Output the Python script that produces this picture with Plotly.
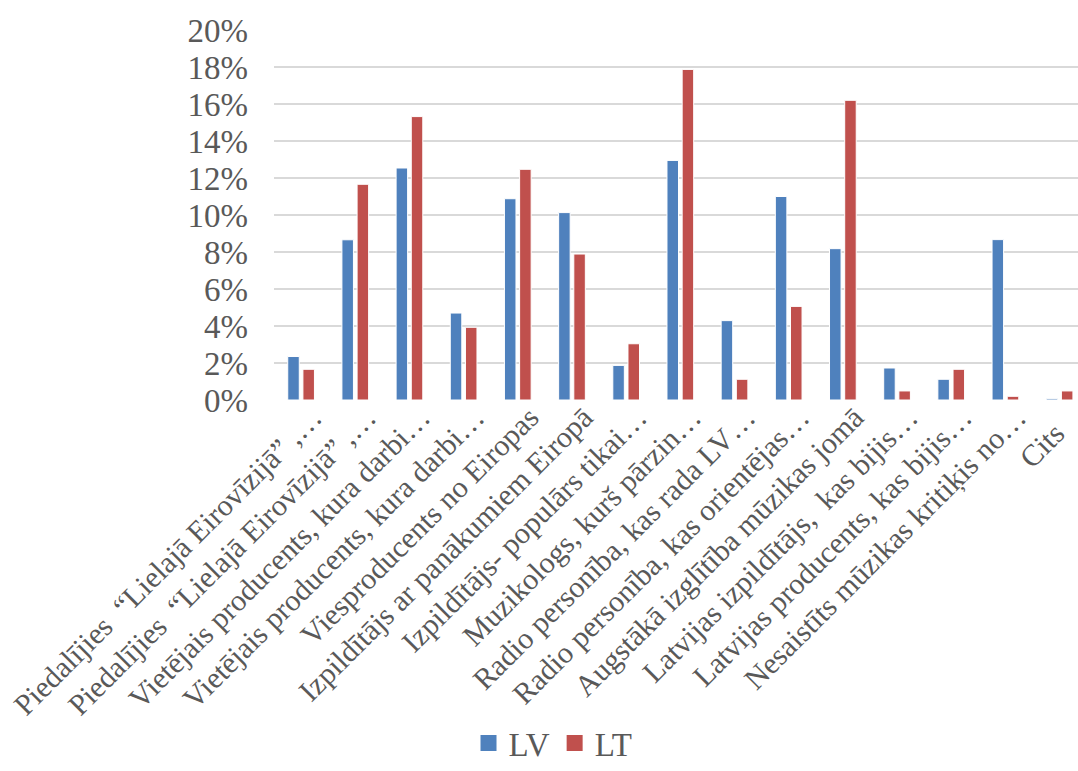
import plotly.graph_objects as go

# Survey categories (two pairs of labels repeat, so positions are numeric)
categories = [
    "Piedalījies  “Lielajā Eirovīzijā” ,…",
    "Piedalījies  “Lielajā Eirovīzijā” ,…",
    "Vietējais producents, kura darbi…",
    "Vietējais producents, kura darbi…",
    "Viesproducents no Eiropas",
    "Izpildītājs ar panākumiem Eiropā",
    "Izpildītājs- populārs tikai…",
    "Muzikologs, kurš pārzin…",
    "Radio personība, kas rada LV…",
    "Radio personība, kas orientējas…",
    "Augstākā izglītība mūzikas jomā",
    "Latvijas izpildītājs,  kas bijis…",
    "Latvijas producents, kas bijis…",
    "Nesaistīts mūzikas kritiķis no…",
    "Cits\u00a0\u00a0\u00a0",
]

lv_values = [0.0235, 0.0866, 0.1254, 0.0470, 0.1088, 0.1013, 0.0187, 0.1295,
             0.0429, 0.1100, 0.0818, 0.0173, 0.0112, 0.0867, 0.0007]
lt_values = [0.0166, 0.1166, 0.1532, 0.0393, 0.1247, 0.0789, 0.0304, 0.1787,
             0.0112, 0.0506, 0.1620, 0.0049, 0.0166, 0.0020, 0.0049]

y_ticks = [i / 100 for i in range(0, 21, 2)]
y_tick_text = [f"{i}%" for i in range(0, 21, 2)]

series_names = ["LV", "LT"]
series_colors = ["#4F81BD", "#C0504D"]

positions = list(range(len(categories)))
font_family = "Liberation Serif, Times New Roman, serif"
text_color = "#595959"

fig = go.Figure()
for name, values, color in zip(series_names, [lv_values, lt_values], series_colors):
    fig.add_trace(go.Bar(
        x=positions, y=values, name=name, showlegend=False,
        marker=dict(color=color, line=dict(color="white", width=1)),
    ))
# square legend keys
for name, color in zip(series_names, series_colors):
    fig.add_trace(go.Scatter(
        x=[None], y=[None], mode="markers", name=name,
        marker=dict(symbol="square", size=16, color=color),
    ))

fig.update_layout(
    width=1078, height=771,
    margin=dict(l=274, r=0, t=30, b=371, autoexpand=False),
    paper_bgcolor="white", plot_bgcolor="white",
    barmode="group", bargap=0.44, bargroupgap=0.24,
    font=dict(family=font_family, size=33, color=text_color),
    showlegend=True,
    legend=dict(
        orientation="h", x=0.513, xref="container", xanchor="center",
        y=-0.0195, yref="container", yanchor="bottom",
        font=dict(size=33, color=text_color),
        itemwidth=30, tracegroupgap=0, itemsizing="trace",
        bgcolor="rgba(0,0,0,0)",
    ),
    xaxis=dict(
        # the category band runs slightly past the right edge of the page
        range=[-0.5, len(categories) - 0.66],
        tickmode="array", tickvals=positions, ticktext=categories,
        tickangle=-45, showgrid=False, zeroline=False, showline=False,
        ticks="", automargin=False, ticklabeloverflow="allow",
        ticklabelshift=12, ticklabelstandoff=-7,
        tickfont=dict(size=30, color=text_color),
    ),
    yaxis=dict(
        range=[0, 0.2], tickmode="array", tickvals=y_ticks, ticktext=y_tick_text,
        showgrid=True, gridcolor="#D9D9D9", gridwidth=1.5,
        zeroline=False, showline=False, ticks="", automargin=False,
        ticklabelstandoff=25,
        tickfont=dict(size=33, color=text_color),
    ),
)

fig.write_html("out.html")
